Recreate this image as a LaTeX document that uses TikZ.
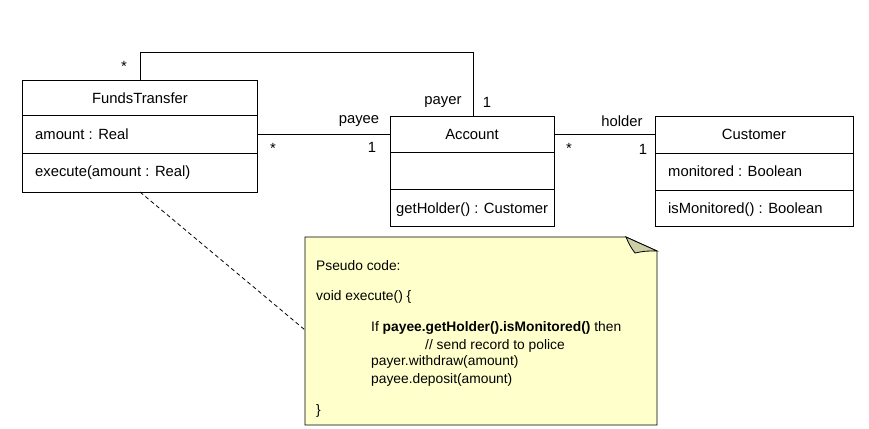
\documentclass[tikz,border=0pt]{standalone}
\usepackage{fontspec}
\setmainfont{Liberation Sans}
\begin{document}
\begin{tikzpicture}[x=1pt,y=-1pt,
  box/.style={draw=black,line width=0.8pt},
  lbl/.style={inner sep=0pt,font=\fontsize{14.8}{16}\selectfont},
  nlbl/.style={inner sep=0pt,anchor=west,font=\fontsize{13.8}{15}\selectfont},
  conn/.style={draw=black,line width=0.8pt}]
\useasboundingbox (0,0) rectangle (869,428);
\definecolor{notefill}{HTML}{FFFFCC}
\definecolor{flap}{HTML}{CDCDA8}
% FundsTransfer
\draw[box] (22,80) rectangle (257,192);
\draw[box] (22,115) -- (257,115);
\draw[box] (22,153) -- (257,153);
\coordinate (ftN) at (140,80);
\coordinate (ftE) at (257,134);
\coordinate (ftS) at (140,192);
\node[lbl] (ftname) at (140,98) {FundsTransfer};
\node[lbl,anchor=west] (ftattr) at (35,134) {amount : Real};
\node[lbl,anchor=west] (ftop) at (35,173) {execute(amount : Real)};
% Account
\draw[box] (390,116) rectangle (554,226);
\draw[box] (390,152) -- (554,152);
\draw[box] (390,189) -- (554,189);
\coordinate (acN) at (473,116);
\coordinate (acW) at (390,134);
\coordinate (acE) at (554,134);
\node[lbl] (acname) at (472,134) {Account};
\node[lbl,anchor=west] (acop) at (396,210) {getHolder() : Customer};
% Customer
\draw[box] (655,116) rectangle (853,226);
\draw[box] (655,153) -- (853,153);
\draw[box] (655,190) -- (853,190);
\coordinate (cuW) at (655,134);
\node[lbl] (cuname) at (754,134) {Customer};
\node[lbl,anchor=west] (cuattr) at (668,171) {monitored : Boolean};
\node[lbl,anchor=west] (cuop) at (668,210) {isMonitored() : Boolean};
% connectors
\coordinate (c1) at (140,52);
\coordinate (c2) at (473,52);
\draw[conn] (ftN) -- (c1) -- (c2) -- (acN);
\draw[conn] (ftE) -- (acW);
\draw[conn] (acE) -- (cuW);
\node[lbl] (m1) at (124,66) {*};
\node[lbl] (r1) at (443,102) {payer};
\node[lbl] (m2) at (487,102) {1};
\node[lbl] (r2) at (359,121) {payee};
\node[lbl] (m3) at (372,147) {1};
\node[lbl] (m4) at (273,148) {*};
\node[lbl] (r3) at (622,121) {holder};
\node[lbl] (m5) at (569,148) {*};
\node[lbl] (m6) at (643,149) {1};
% note
\draw[line width=0.8pt,fill=notefill] (305,237) -- (626,237) -- (657,251) -- (657,425) -- (305,425) -- cycle;
\draw[line width=0.8pt,fill=flap] (626,237) .. controls (630,246) .. (635,253) .. controls (645,251) .. (657,251) -- cycle;
\coordinate (noteW) at (305,330);
\draw[conn,dashed,dash pattern=on 4pt off 3pt] (ftS) -- (noteW);
\node[nlbl] (n1) at (316,266) {Pseudo code:};
\node[nlbl] (n2) at (316,297) {void execute() \{};
\node[nlbl] (n3) at (371,328) {If \textbf{payee.getHolder().isMonitored()} then};
\node[nlbl] (n4) at (425,346) {// send record to police};
\node[nlbl] (n5) at (371,362) {payer.withdraw(amount)};
\node[nlbl] (n6) at (371,380) {payee.deposit(amount)};
\node[nlbl] (n7) at (316,411) {\}};
\end{tikzpicture}
\end{document}
